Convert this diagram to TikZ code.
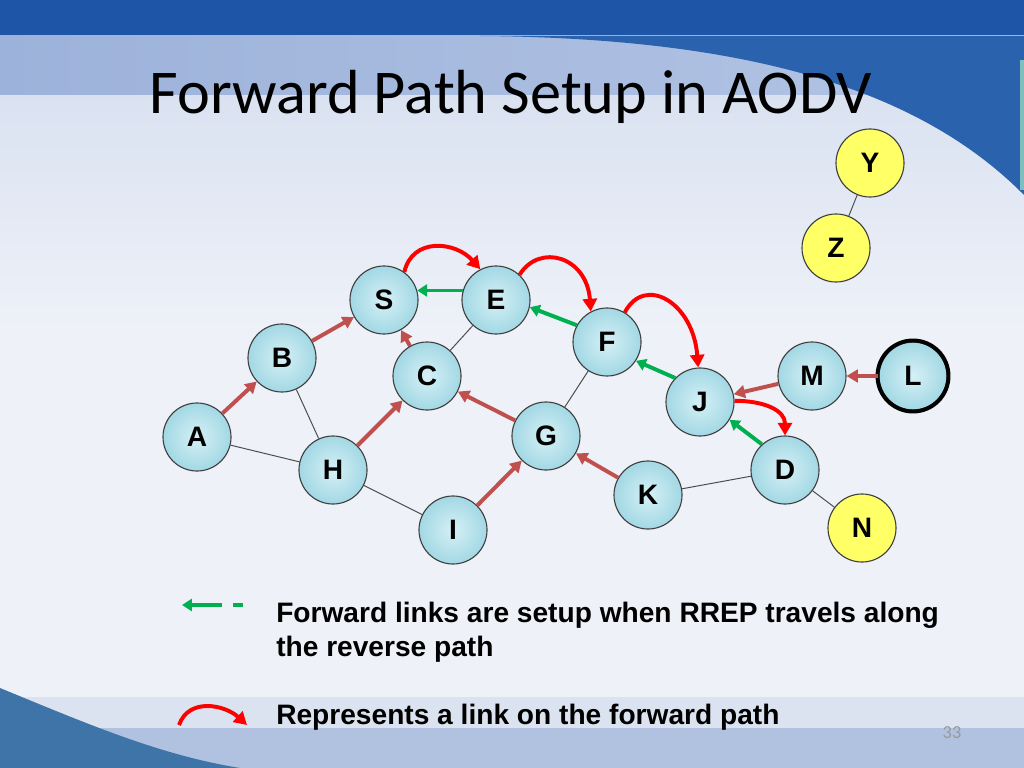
\documentclass[tikz,border=0pt]{standalone}
\usepackage{fontspec}
\setmainfont{Liberation Sans}
\newfontfamily\titlefont{Carlito}
\usetikzlibrary{arrows.meta}
\definecolor{topband}{HTML}{1E55A6}
\definecolor{swoosh}{HTML}{2A62AE}
\definecolor{bandleft}{HTML}{9DB2DA}
\definecolor{bandright}{HTML}{B3C5E5}
\definecolor{slidetop}{HTML}{DAE2F1}
\definecolor{slidelight}{HTML}{EEF1F8}
\definecolor{footband}{HTML}{DCE3F0}
\definecolor{footblue}{HTML}{B0C2DF}
\definecolor{footdark}{HTML}{3E74A8}
\definecolor{cyanlight}{HTML}{D6F0F6}
\definecolor{cyandark}{HTML}{A2D8E4}
\definecolor{idleyellow}{HTML}{FFFF66}
\definecolor{rreqred}{HTML}{C0504D}
\definecolor{rrepgreen}{HTML}{00B050}

\begin{document}
\begin{tikzpicture}[x=0.025cm, y=-0.025cm,
    station/.style={circle, draw=black!75, line width=0.8pt, minimum size=1.7cm,
        inner sep=0pt, font=\fontsize{20}{23}\selectfont\bfseries},
    host/.style={station, inner color=cyanlight, outer color=cyandark},
    spare/.style={station, fill=idleyellow},
    link/.style={draw=black!70, line width=0.7pt},
    rreq/.style={draw=rreqred, line width=2.8pt, -{Triangle[length=8pt,width=9pt]}},
    rrep/.style={draw=rrepgreen, line width=2.8pt, -{Triangle[length=7pt,width=8.5pt]}},
    fpath/.style={draw=red, line width=2.8pt, -{Triangle[length=9pt,width=10pt]}},
    legend/.style={anchor=base west, inner sep=0pt, font=\fontsize{20}{24}\selectfont\bfseries}]
    \useasboundingbox (0,0) rectangle (1024,768);
    % slide background
    \fill[slidelight] (0,0) rectangle (1024,768);
    \shade[top color=slidetop, bottom color=slidelight] (0,95) rectangle (1024,330);
    \fill[topband] (0,0) rectangle (1024,36);
    \shade[left color=bandleft, right color=bandright] (0,36) rectangle (1024,95);
    \fill[swoosh] (480,36) .. controls (750,38) and (920,90) .. (1024,195) -- (1024,36) -- cycle;
    \fill[teal!50] (1020,60) rectangle (1024,190);
    \fill[footband] (0,697) rectangle (1024,728);
    \fill[footblue] (0,728) rectangle (1024,768);
    \fill[footdark] (0,688) .. controls (90,725) and (160,755) .. (240,768) -- (0,768) -- cycle;
    \node[anchor=base, font=\titlefont\fontsize{44.3}{50}\selectfont] (title) at (511,114) {Forward Path Setup in AODV};
    % nodes
    \foreach \n/\x/\y in {S/384/300, E/496/300, B/282/358, C/427/376, F/607/342,
        A/197/437, H/333/470, G/546/436, J/700/402, M/812/376, L/913/376,
        D/785/470, K/648/495, I/453/530}
        \node[host] (\n) at (\x,\y) {\n};
    \draw[black, line width=2.8pt] (L) circle (35.5);
    \foreach \n/\x/\y in {Y/870/163, Z/836/248, N/862/528}
        \node[spare] (\n) at (\x,\y) {\n};
    % links
    \foreach \a/\b in {A/H, B/H, H/I, E/C, F/G, K/D, D/N, Y/Z}
        \draw[link] (\a) -- (\b);
    \foreach \a/\b in {A/B, B/S, C/S, H/C, G/C, I/G, K/G, M/J, L/M}
        \draw[rreq] (\a) -- (\b);
    \draw[rrep] (E.164) -- (S.16);
    \draw[rrep] (F.151) -- (E.-12);
    \draw[rrep] (J.136) -- (F.-33);
    \draw[rrep] (D.132) -- (J.-31);
    \draw[fpath] (S.54) .. controls +(8,-35) and +(-25,-28) .. (E.117);
    \draw[fpath] (E.47) .. controls +(20,-32) and +(-4,-55) .. (F.118);
    \draw[fpath] (F.59) .. controls +(20,-38) and +(-5,-65) .. (J.93);
    \draw[fpath] (J.2) .. controls +(30,0) and +(0,-25) .. (D.90);
    % legend
    \coordinate (gtail) at (222,605);
    \coordinate (ghead) at (182,605);
    \coordinate (dasha) at (233,605);
    \coordinate (dashb) at (243,605);
    \coordinate (rtail) at (179,725);
    \coordinate (rhead) at (247,725);
    \draw[rrep] (gtail) -- (ghead);
    \draw[rrepgreen, line width=2.8pt] (dasha) -- (dashb);
    \draw[fpath] (rtail) .. controls +(10,-28) and +(-22,-20) .. (rhead);
    \node[legend] (legA) at (276,622) {Forward links are setup when RREP travels along};
    \node[legend] (legB) at (276,656) {the reverse path};
    \node[legend] (legC) at (276,724) {Represents a link on the forward path};
    \node[text=black!40, font=\titlefont\fontsize{13}{15}\selectfont] (page) at (952,733) {33};
\end{tikzpicture}
\end{document}
